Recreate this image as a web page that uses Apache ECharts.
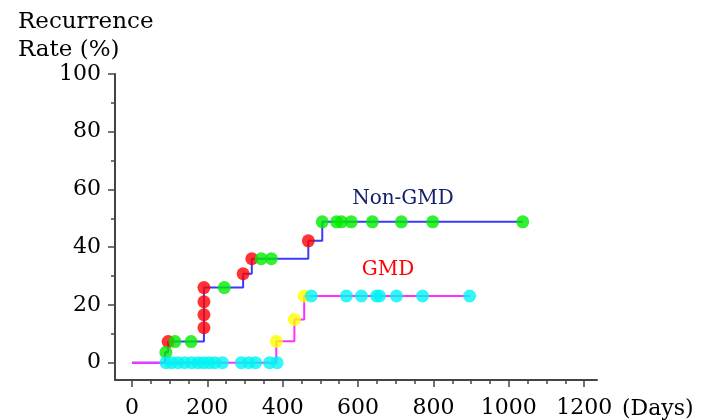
<!DOCTYPE html>
<html>
<head>
<meta charset="utf-8">
<script src="https://cdn.jsdelivr.net/npm/echarts@6/dist/echarts.min.js"></script>
<style>html,body{margin:0;padding:0;background:#fff}#c{width:703px;height:420px}</style>
</head>
<body>
<div id="c"></div>
<script>
// ---- data ----
const xTicks = [0, 200, 400, 600, 800, 1000, 1200];
const xMinorTicks = [50, 100, 150, 250, 300, 350, 450, 500, 550, 650, 700, 750, 850, 900, 950, 1050, 1100, 1150];
const yTicks = [0, 20, 40, 60, 80, 100];
const yMinorTicks = [10, 30, 50, 70, 90];

// Non-GMD step curve (day, cumulative recurrence %)
const nonGmdCurve = [[0,0],[88,3.6],[96,7.3],[191,12.1],[191,16.6],[191,21.1],[191,26.0],[295,30.8],[318,36.0],[468,42.2],[505,48.8],[1037,48.8]];
const nonGmdEvents = [[96,7.3],[191,12.1],[191,16.6],[191,21.1],[191,26.0],[295,30.8],[318,36.0],[468,42.2]];
const nonGmdCensored = [[90,3.6],[114,7.3],[157,7.3],[245,26.0],[343,36.0],[370,36.0],[505,48.8],[543,48.8],[556,48.8],[582,48.8],[638,48.8],[715,48.8],[798,48.8],[1037,48.8]];

// GMD step curve
const gmdCurve = [[0,0],[383,7.4],[431,15.0],[457,23.1],[896,23.1]];
const gmdEvents = [[383,7.4],[431,15.0],[457,23.1]];
const gmdCensored = [[90,0],[105,0],[122,0],[140,0],[158,0],[175,0],[190,0],[205,0],[220,0],[240,0],[290,0],[310,0],[328,0],[365,0],[385,0],[476,23.1],[569,23.1],[609,23.1],[649,23.1],[657,23.1],[702,23.1],[771,23.1],[896,23.1]];

const FONT = 'DejaVu Serif';
const chart = echarts.init(document.getElementById('c'));
const axisCol = '#444';
const base = {min: -45, max: 1234};
const plain = v => String(v);
chart.setOption({
  animation: false,
  backgroundColor: '#fff',
  grid: {left: 115, right: 106, top: 74, bottom: 40, containLabel: false, outerBoundsMode: 'none'},
  xAxis: [
    {type: 'value', min: base.min, max: base.max, position: 'bottom',
     axisLine: {show: true, onZero: false, lineStyle: {color: axisCol, width: 2}},
     axisTick: {show: true, length: 7, lineStyle: {color: axisCol, width: 1.5}, customValues: xTicks},
     axisLabel: {show: true, customValues: xTicks, formatter: plain, margin: 17, color: '#000', fontFamily: FONT, fontSize: 22},
     splitLine: {show: false}},
    {type: 'value', min: base.min, max: base.max, position: 'bottom',
     axisLine: {show: false, onZero: false},
     axisTick: {show: true, length: 4, lineStyle: {color: axisCol, width: 1.5}, customValues: xMinorTicks},
     axisLabel: {show: false}, splitLine: {show: false}}
  ],
  yAxis: [
    {type: 'value', min: -6, max: 100, position: 'left',
     axisLine: {show: true, onZero: false, lineStyle: {color: axisCol, width: 2}},
     axisTick: {show: true, length: 7, lineStyle: {color: axisCol, width: 1.5}, customValues: yTicks},
     axisLabel: {show: true, customValues: yTicks, formatter: plain, margin: 14, color: '#000', fontFamily: FONT, fontSize: 22},
     splitLine: {show: false}},
    {type: 'value', min: -6, max: 100, position: 'left',
     axisLine: {show: false, onZero: false},
     axisTick: {show: true, length: 4, lineStyle: {color: axisCol, width: 1.5}, customValues: yMinorTicks},
     axisLabel: {show: false}, splitLine: {show: false}}
  ],
  series: [
    {type: 'line', step: 'end', data: nonGmdCurve, showSymbol: false, lineStyle: {color: '#3a3aff', width: 2}, z: 2},
    {type: 'line', step: 'end', data: gmdCurve, showSymbol: false, lineStyle: {color: '#ff30ff', width: 2}, z: 3},
    {type: 'scatter', data: nonGmdEvents, symbol: 'circle', symbolSize: 13, itemStyle: {color: '#ff0000'}, z: 4},
    {type: 'scatter', data: gmdEvents, symbol: 'circle', symbolSize: 13, itemStyle: {color: '#ffff00'}, z: 4},
    {type: 'scatter', data: nonGmdCensored, symbol: 'circle', symbolSize: 13, itemStyle: {color: '#00ec00'}, z: 5},
    {type: 'scatter', data: gmdCensored, symbol: 'circle', symbolSize: 13, itemStyle: {color: '#00f4f4'}, z: 5}
  ],
  graphic: [
    {type: 'text', left: 18, top: 11, style: {text: 'Recurrence', font: '23px "DejaVu Serif"', fill: '#000'}},
    {type: 'text', left: 18, top: 39, style: {text: 'Rate (%)', font: '23px "DejaVu Serif"', fill: '#000'}},
    {type: 'text', left: 622, top: 398, style: {text: '(Days)', font: '22px "DejaVu Serif"', fill: '#000'}},
    {type: 'text', x: 403, y: 199, style: {text: 'Non-GMD', font: '20px "DejaVu Serif"', fill: '#14206a', align: 'center', verticalAlign: 'middle'}},
    {type: 'text', x: 388, y: 270, style: {text: 'GMD', font: '20px "DejaVu Serif"', fill: '#ff0000', align: 'center', verticalAlign: 'middle'}}
  ]
});
</script>
</body>
</html>
